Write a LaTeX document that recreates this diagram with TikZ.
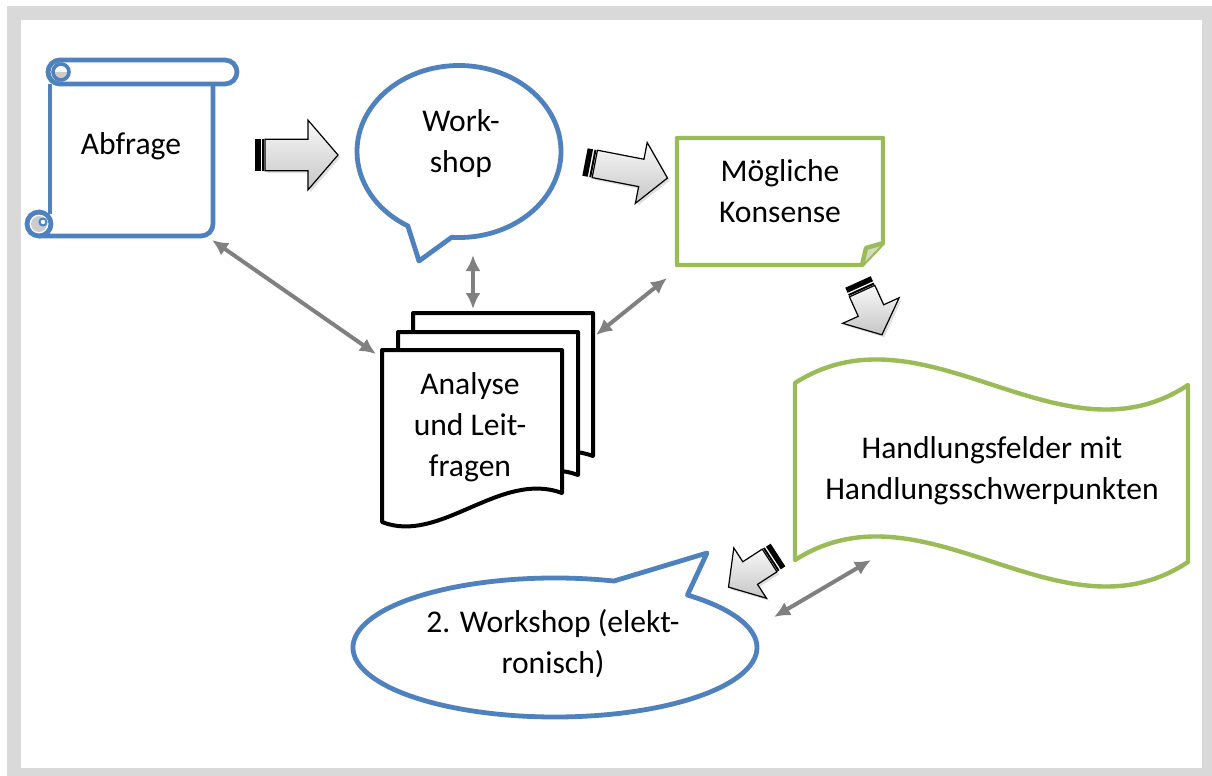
\documentclass[tikz,border=0pt]{standalone}
\usepackage{fontspec}
\setmainfont{Carlito}
\usetikzlibrary{arrows.meta, shapes.callouts, shadows}

\definecolor{officeblue}{HTML}{4F81BD}
\definecolor{officegreen}{HTML}{9BBB59}
\definecolor{linkgray}{HTML}{808080}
\definecolor{framegray}{HTML}{D9D9D9}
\definecolor{foldgreen}{RGB}{210,218,192}

\begin{document}
\begin{tikzpicture}[x=0.5pt, y=-0.5pt, font=\fontsize{15.8}{20.5}\selectfont]

        % Setup the styles for the shapes, texts and arrows
        \tikzset{label text/.style={align=center, inner sep=0pt},
                 blue line/.style={draw=officeblue, line width=2.4pt, line join=round},
                 green line/.style={draw=officegreen, line width=2.2pt, line join=round},
                 doc line/.style={draw=black, line width=2pt, fill=white, line join=round},
                 link/.style={draw=linkgray, line width=2pt, <->,
                              >={Latex[length=8pt, width=7.5pt]}},
                 pics/docpage/.style={code={
                     \draw[doc line] (0,0) -- (180,0) -- (180,143)
                         .. controls (118,120) and (58,195) .. (0,172) -- cycle;}},
                 pics/stripedarrow/.style args={#1/#2}{code={
                     \draw[line width=0.6pt, top color=gray!5, bottom color=gray!45,
                           drop shadow={shadow xshift=1.2pt, shadow yshift=-1.2pt, opacity=0.25}]
                         (10,-0.45*#2) -- ({#1-0.86*#2},-0.45*#2) -- ({#1-0.86*#2},-#2)
                         -- (#1,0) -- ({#1-0.86*#2},#2) -- ({#1-0.86*#2},0.45*#2)
                         -- (10,0.45*#2) -- cycle;
                     \fill (0,-0.45*#2) rectangle (5.5,0.45*#2);
                     \fill (7,-0.45*#2) rectangle (9,0.45*#2);}}}

        \useasboundingbox (0,0) rectangle (1212,776);
        \fill[white] (0,0) rectangle (1212,776);
        \draw[framegray, line width=7pt] (14,13) rectangle (1209,775);

        % Draw the scroll
        \draw[blue line] (60,60) -- (225,60) arc[start angle=-90, end angle=90, radius=12]
            -- (60,84) arc[start angle=90, end angle=270, radius=12] -- cycle;
        \draw[blue line] (50,84) -- (50,214);
        \draw[blue line] (39,236) -- (201,236) arc[start angle=90, end angle=0, radius=12] -- (213,84);
        \fill[gray!40] (53,72) arc[start angle=180, end angle=0, radius=8] -- cycle;
        \draw[blue line, line width=1.8pt] (61,72) circle[radius=8];
        \draw[blue line, fill=white] (39,224) circle[radius=12];
        \fill[gray!40] (39,224) circle[radius=8];
        \draw[officeblue, line width=1pt, fill=white] (43,222) circle[radius=3.5];
        \node[label text] (abfrage) at (131,146) {Abfrage};

        % Draw the speech bubbles
        \node[ellipse callout, blue line, minimum width=102pt, minimum height=86pt,
              callout absolute pointer={(419,261)}, callout pointer arc=26]
                            at (459,151.5)   (workshop)   {};
        \node[label text]   at (461,144)     (workshop text) {Work-\\shop};

        \node[ellipse callout, blue line, minimum width=202pt, minimum height=69.5pt,
              callout absolute pointer={(707,553)}, callout pointer arc=24]
                            at (555,647.5)   (workshop2)  {};
        \node[label text]   at (553,644)     (workshop2 text) {2. Workshop (elekt-\\ronisch)};

        % Draw the folded note
        \draw[green line] (677,138) -- (883,138) -- (883,243) -- (862,265) -- (677,265) -- cycle;
        \filldraw[green line, fill=foldgreen] (883,243) -- (866,248) -- (862,265);
        \node[label text]   at (780,191)     (konsens)    {Mögliche\\Konsense};

        % Draw the stack of documents
        \pic (docback)  at (413,313) {docpage};
        \pic (docmid)   at (398,332) {docpage};
        \pic (docfront) at (382,350) {docpage};
        \node[label text]   at (470,427)     (analyse)    {Analyse\\und Leit-\\fragen};

        % Draw the wave
        \draw[green line] (795,383) .. controls (925,300) and (1060,470) .. (1188,385)
            -- (1188,562) .. controls (1060,647) and (925,477) .. (795,560) -- cycle;
        \node[label text]   at (992,471)     (handlung)   {Handlungsfelder mit\\Handlungsschwerpunkten};

        % Draw the striped block arrows
        \pic[rotate=0]      at (255,155) {stripedarrow=83/35};
        \pic[rotate=-11]    at (585,162) {stripedarrow=84/31};
        \pic[rotate=-65.6]  at (858,282) {stripedarrow=58/31};
        \pic[rotate=-147]   at (778,555) {stripedarrow=59/30};

        % Connect the shapes with the double arrows
        \coordinate (abfrage corner)  at (212,240);
        \coordinate (docfront corner) at (376,354);
        \coordinate (workshop foot)   at (473,255);
        \coordinate (docback top)     at (473,309);
        \coordinate (docfront side)   at (596,335);
        \coordinate (konsens foot)    at (667,278);
        \coordinate (workshop2 side)  at (774,617);
        \coordinate (handlung foot)   at (871,560);

        \draw[link] (abfrage corner) -- (docfront corner);
        \draw[link] (workshop foot)  -- (docback top);
        \draw[link] (docfront side)  -- (konsens foot);
        \draw[link] (workshop2 side) -- (handlung foot);
\end{tikzpicture}
\end{document}
